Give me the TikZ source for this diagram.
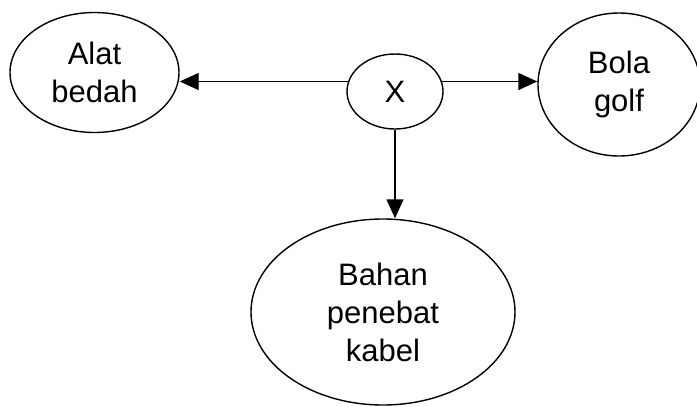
\documentclass[tikz,border=0pt]{standalone}
\usepackage{fontspec}
\setmainfont{Liberation Sans}
\usetikzlibrary{shapes.geometric,arrows.meta}
\begin{document}
\begin{tikzpicture}[x=1pt,y=-1pt,
  oval/.style={ellipse,draw=black,line width=1.4pt,inner sep=0pt,align=center,
    font=\fontsize{31}{38}\selectfont},
  arr/.style={line width=1.4pt,-{Triangle[length=19pt,width=17pt]}}]
\useasboundingbox (0,0) rectangle (697,407);
\begin{scope}
\clip (0,0) rectangle (697,407);
\node[oval,minimum width=169pt,minimum height=120pt] (A) at (94.5,72.5) {Alat\\bedah};
\node[oval,minimum width=96pt,minimum height=75pt] (X) at (395,91.5) {X};
\node[oval,minimum width=162pt,minimum height=143pt] (B) at (619,84.5) {Bola\\golf};
\node[oval,minimum width=264pt,minimum height=186pt] (C) at (383,312) {Bahan\\penebat\\kabel};
\draw[arr] (X.168) -- (X.168 -| A.east);
\draw[arr] (X.12) -- (X.12 -| B.west);
\draw[arr] (X.south) -- (X.south |- C.north);
\end{scope}
\end{tikzpicture}
\end{document}
